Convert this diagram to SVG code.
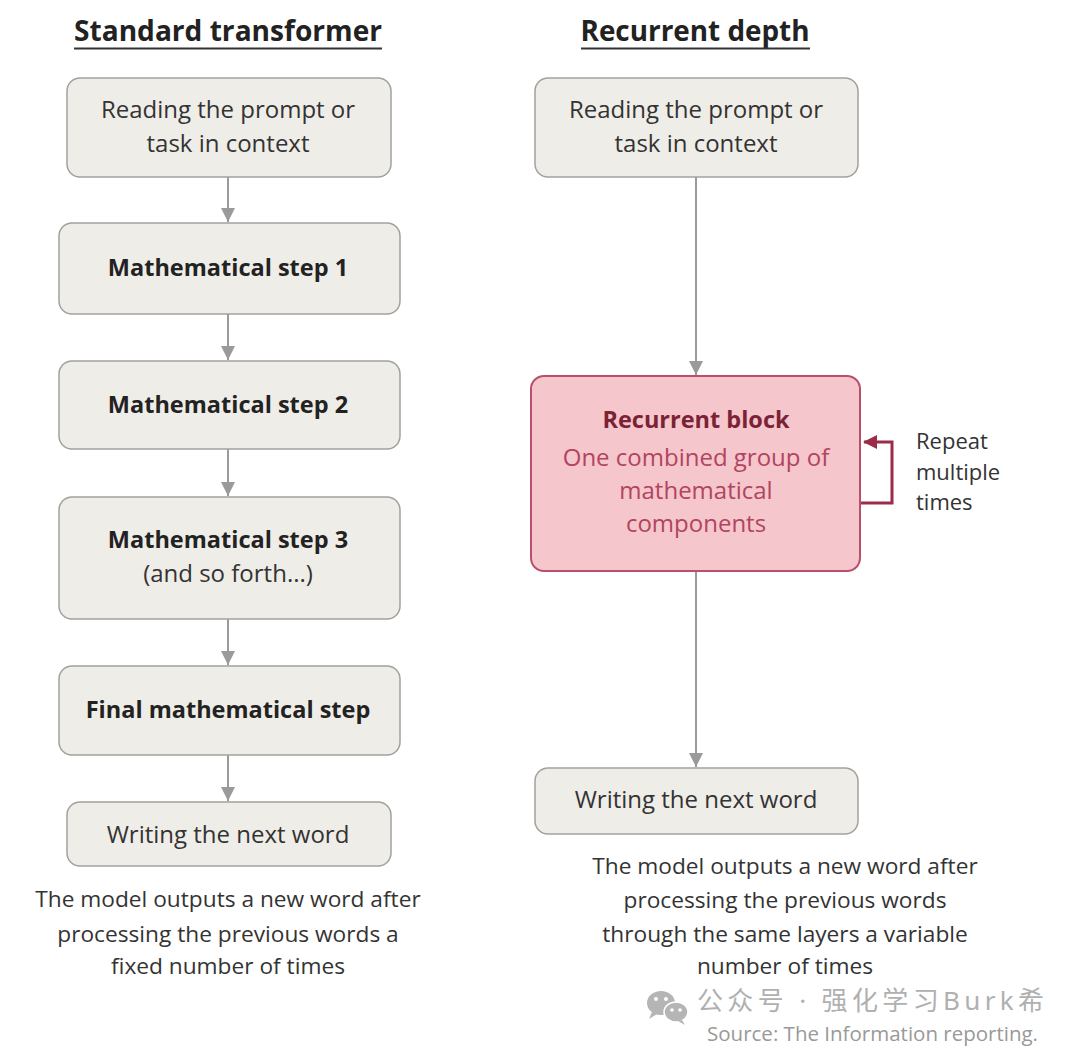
<svg xmlns="http://www.w3.org/2000/svg" width="1080" height="1050" viewBox="0 0 1080 1050">
<defs>
<marker id="ag" viewBox="0 0 14 14" refX="14" refY="7" markerWidth="14" markerHeight="14" markerUnits="userSpaceOnUse" orient="auto"><path d="M0,0 L14,7 L0,14 Z" fill="#9a9a9a"/></marker>
<marker id="ar" viewBox="0 0 14 14" refX="13" refY="7" markerWidth="14" markerHeight="14" markerUnits="userSpaceOnUse" orient="auto"><path d="M0,0 L14,7 L0,14 Z" fill="#9b2d4a"/></marker>
<style>
text{font-family:"Open Sans","Noto Sans","Liberation Sans",sans-serif;text-anchor:middle}
.title{font-size:28.5px;font-weight:700;fill:#222}
.box{fill:#efede8;stroke:#a3a19d;stroke-width:1.5}
.t{font-size:24px;fill:#333}
.b{font-size:23.5px;font-weight:700;fill:#222}
.cap{font-size:22.7px;fill:#333}
.conn{stroke:#9a9a9a;stroke-width:2;fill:none}
</style>
</defs>
<rect width="1080" height="1050" fill="#ffffff"/>

<g id="title-left">
<text class="title" x="228" y="41" textLength="308" lengthAdjust="spacingAndGlyphs">Standard transformer</text>
<line x1="74" y1="48.5" x2="382" y2="48.5" stroke="#333" stroke-width="2"/>
</g>
<g id="title-right">
<text class="title" x="695" y="41" textLength="229" lengthAdjust="spacingAndGlyphs">Recurrent depth</text>
<line x1="581" y1="48.5" x2="810" y2="48.5" stroke="#333" stroke-width="2"/>
</g>

<g id="connectors">
<line class="conn" x1="228" y1="177" x2="228" y2="222" marker-end="url(#ag)"/>
<line class="conn" x1="228" y1="314" x2="228" y2="360" marker-end="url(#ag)"/>
<line class="conn" x1="228" y1="449" x2="228" y2="496" marker-end="url(#ag)"/>
<line class="conn" x1="228" y1="619" x2="228" y2="665" marker-end="url(#ag)"/>
<line class="conn" x1="228" y1="755" x2="228" y2="801" marker-end="url(#ag)"/>
<line class="conn" x1="696" y1="177" x2="696" y2="375" marker-end="url(#ag)"/>
<line class="conn" x1="696" y1="571" x2="696" y2="767" marker-end="url(#ag)"/>
<path d="M860,503 H892 V442 H864" fill="none" stroke="#9b2d4a" stroke-width="3" marker-end="url(#ar)"/>
</g>

<g id="l-read">
<rect class="box" x="67" y="78" width="324" height="99" rx="13"/>
<text class="t" x="228" y="118">Reading the prompt or</text>
<text class="t" x="228" y="152">task in context</text>
</g>
<g id="l-step1">
<rect class="box" x="59" y="223" width="341" height="91" rx="13"/>
<text class="b" x="228" y="276">Mathematical step 1</text>
</g>
<g id="l-step2">
<rect class="box" x="59" y="361" width="341" height="88" rx="13"/>
<text class="b" x="228" y="413">Mathematical step 2</text>
</g>
<g id="l-step3">
<rect class="box" x="59" y="497" width="341" height="122" rx="13"/>
<text class="b" x="228" y="548">Mathematical step 3</text>
<text class="t" x="228" y="582">(and so forth...)</text>
</g>
<g id="l-final">
<rect class="box" x="59" y="666" width="341" height="89" rx="13"/>
<text class="b" x="228" y="718">Final mathematical step</text>
</g>
<g id="l-write">
<rect class="box" x="67" y="802" width="324" height="64" rx="13"/>
<text class="t" x="228" y="843">Writing the next word</text>
</g>
<g id="l-caption">
<text class="cap" x="228" y="907">The model outputs a new word after</text>
<text class="cap" x="228" y="942">processing the previous words a</text>
<text class="cap" x="228" y="974">fixed number of times</text>
</g>

<g id="r-read">
<rect class="box" x="535" y="78" width="323" height="99" rx="13"/>
<text class="t" x="696" y="118">Reading the prompt or</text>
<text class="t" x="696" y="152">task in context</text>
</g>
<g id="r-block">
<rect x="531" y="376" width="329" height="195" rx="13" fill="#f5c6cc" stroke="#b8506a" stroke-width="2"/>
<text x="696" y="428" style="font-size:23.5px;font-weight:700;fill:#7b2236">Recurrent block</text>
<text x="696" y="466" style="font-size:24px;fill:#b2445f">One combined group of</text>
<text x="696" y="499" style="font-size:24px;fill:#b2445f">mathematical</text>
<text x="696" y="532" style="font-size:24px;fill:#b2445f">components</text>
</g>
<g id="r-repeat">
<text x="916" y="449" style="font-size:22px;fill:#333;text-anchor:start">Repeat</text>
<text x="916" y="480" style="font-size:22px;fill:#333;text-anchor:start">multiple</text>
<text x="916" y="510" style="font-size:22px;fill:#333;text-anchor:start">times</text>
</g>
<g id="r-write">
<rect class="box" x="535" y="768" width="323" height="66" rx="13"/>
<text class="t" x="696" y="808">Writing the next word</text>
</g>
<g id="r-caption">
<text class="cap" x="785" y="874">The model outputs a new word after</text>
<text class="cap" x="785" y="908">processing the previous words</text>
<text class="cap" x="785" y="942">through the same layers a variable</text>
<text class="cap" x="785" y="974">number of times</text>
</g>

<g id="watermark">
<ellipse cx="661" cy="1003" rx="14" ry="12" fill="#b5b5b5"/>
<path d="M652,1012 L649,1019 L657,1014 Z" fill="#b5b5b5"/>
<circle cx="656" cy="999" r="2" fill="#fff"/>
<circle cx="666" cy="999" r="2" fill="#fff"/>
<ellipse cx="676" cy="1012" rx="12" ry="10" fill="#b5b5b5" stroke="#fff" stroke-width="1.5"/>
<path d="M682,1020 L685,1025 L678,1021 Z" fill="#b5b5b5"/>
<circle cx="672" cy="1010" r="1.8" fill="#fff"/>
<circle cx="680" cy="1010" r="1.8" fill="#fff"/>
<text x="697" y="1010" textLength="347" lengthAdjust="spacing" style="font-family:'Noto Sans','Noto Sans CJK SC',sans-serif;font-size:26px;fill:#b0b0b0;text-anchor:start">公众号 · 强化学习Burk希</text>
<text x="1038" y="1041" style="font-size:20.5px;fill:#999;text-anchor:end">Source: The Information reporting.</text>
</g>
</svg>
